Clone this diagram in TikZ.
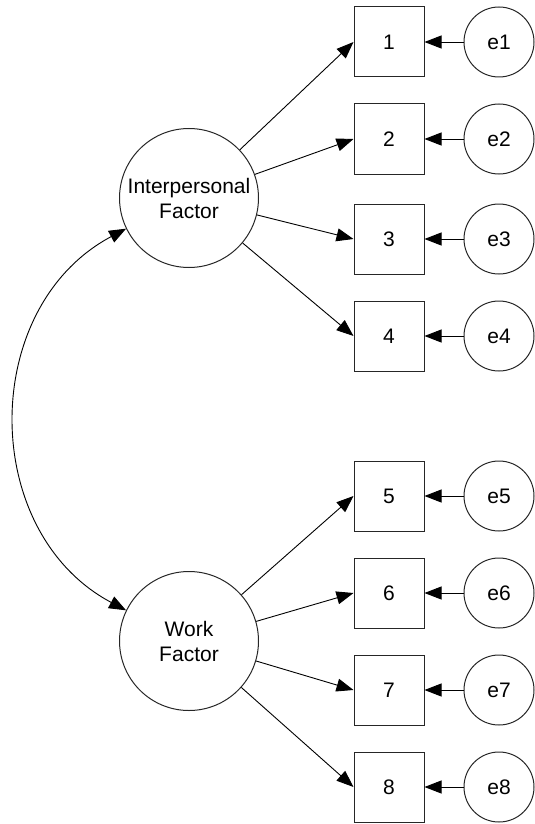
\documentclass[tikz,border=0pt]{standalone}
\usepackage{fontspec}
\setmainfont{Liberation Sans}
\usetikzlibrary{arrows.meta}
\begin{document}
\begin{tikzpicture}[x=1pt,y=1pt,
  every node/.style={font=\fontsize{21}{25}\selectfont, inner sep=0pt},
  obs/.style={draw=black!85, line width=1pt, minimum size=70pt},
  err/.style={circle, draw=black!85, line width=1pt, minimum size=70pt},
  fac/.style={circle, draw=black!85, line width=1pt, minimum size=139pt, align=center},
  arr/.style={-{Triangle[length=17pt,width=13pt]}, line width=0.9pt},
  cov/.style={{Triangle[length=17pt,width=13pt]}-{Triangle[length=17pt,width=13pt]}, line width=0.9pt},
]
\useasboundingbox (0,0) rectangle (535,-824);
\node[fac] (ip) at (189,-198) {Interpersonal\\Factor};
\node[fac] (wf) at (189,-641) {Work\\Factor};
\foreach \i/\y in {1/42,2/139,3/239,4/336,5/496,6/593,7/690,8/787}{
  \node[obs] (b\i) at (389,-\y) {\i};
  \node[err] (e\i) at (499,-\y) {e\i};
  \draw[arr] (e\i) -- (b\i);
}
\foreach \i in {1,2,3,4}{ \draw[arr] (ip) -- (b\i.west); }
\foreach \i in {5,6,7,8}{ \draw[arr] (wf) -- (b\i.west); }
\draw[cov] (ip.206) to[out=208,in=152,looseness=1.12] (wf.154);
\end{tikzpicture}
\end{document}
